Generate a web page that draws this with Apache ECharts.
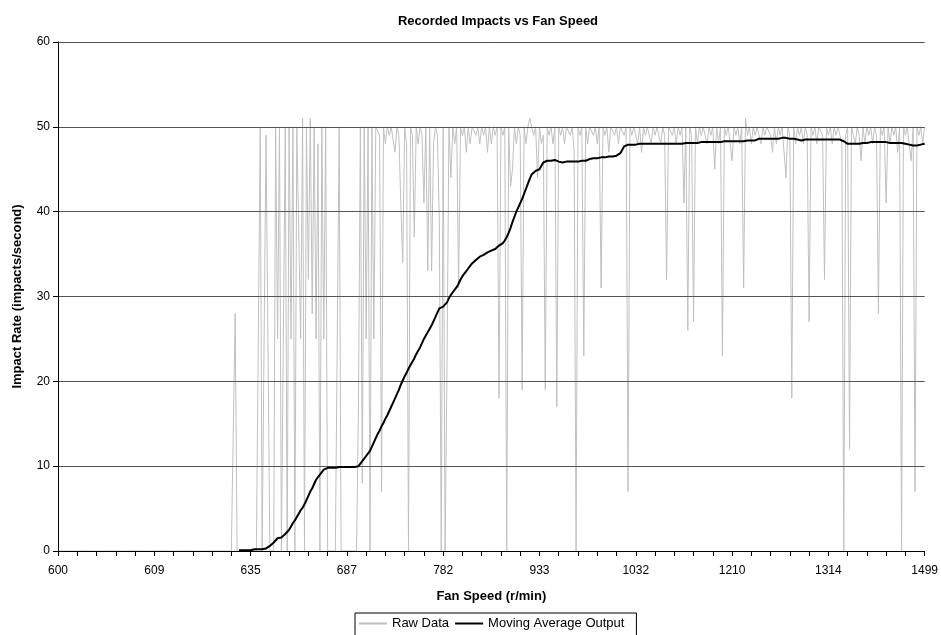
<!DOCTYPE html>
<html>
<head>
<meta charset="utf-8">
<script src="https://cdn.jsdelivr.net/npm/echarts@6/dist/echarts.min.js"></script>
<style>
html,body{margin:0;padding:0;background:#fff;}
#chart{width:941px;height:635px;}
</style>
</head>
<body>
<div id="chart"></div>
<script>
// Tick labels shown every labelStep samples (fan speed, r/min)
const tickLabels = ['600','609','635','687','782','933','1032','1210','1314','1499'];
const labelStep = 50;

// Raw impact rate per sample (impacts/second)
const rawData = [
0,0,0,0,0,0,0,0,0,0,
0,0,0,0,0,0,0,0,0,0,
0,0,0,0,0,0,0,0,0,0,
0,0,0,0,0,0,0,0,0,0,
0,0,0,0,0,0,0,0,0,0,
0,0,0,0,0,0,0,0,0,0,
0,0,0,0,0,0,0,0,0,0,
0,0,0,0,0,0,0,0,0,0,
0,0,0,0,0,0,0,0,0,0,
0,14,28,0,0,0,0,0,0,0,
0,0,0,0,0,50,0,0,49,25,
0,0,0,50,25,50,0,0,50,0,
50,25,50,0,50,50,25,51,0,50,
32,51,28,50,25,48,0,50,25,50,
0,0,0,0,0,0,50,0,0,0,
0,0,0,0,0,0,17,50,8,50,
25,50,0,50,25,50,50,49,7,50,
48,50,49,50,50,47,50,49,41,34,
50,48,0,50,49,37,50,48,50,49,
41,50,33,50,33,48,50,49,39,0,
50,0,22,50,44,50,48,50,31,50,
49,50,47,50,48,50,50,49,50,48,
50,49,50,47,50,48,50,49,50,18,
50,49,50,0,50,43,45,50,48,50,
49,19,50,48,50,51,50,49,50,44,
50,48,49,19,50,49,50,48,50,17,
50,49,50,48,50,50,49,50,47,0,
50,49,50,23,50,48,50,50,49,50,
48,50,31,50,49,50,47,50,50,49,
50,48,50,50,49,50,7,50,49,50,
50,48,50,47,50,49,50,50,48,50,
49,50,50,48,50,49,32,50,50,49,
50,48,50,49,50,41,50,26,50,49,
27,50,48,50,49,50,50,48,50,49,
50,45,50,48,50,23,50,49,50,48,
46,50,49,50,48,50,31,51,49,50,
48,50,49,50,50,48,50,49,50,50,
49,47,50,48,50,49,50,50,44,50,
49,18,50,48,50,49,50,48,50,49,
27,50,49,50,48,50,50,49,32,50,
49,50,48,50,49,50,50,48,0,49,
50,12,50,49,48,50,49,46,50,48,
50,49,50,48,50,49,28,50,49,50,
41,50,48,50,49,50,47,50,0,50,
49,50,48,46,50,7,50,49,50,48,
50
];

// Moving average output, starting at sample maStart
const maStart = 94;
const movingAvg = [
0.1,0.1,0.1,0.1,0.1,0.1,
0.1,0.1,0.2,0.2,0.2,0.2,0.2,0.3,0.3,0.4,
0.6,0.8,1.0,1.2,1.5,1.6,1.6,1.7,2.0,2.2,
2.5,2.9,3.3,3.6,4.0,4.4,4.8,5.1,5.5,6.0,
6.5,7.0,7.4,7.9,8.4,8.7,9.0,9.3,9.6,9.7,
9.8,9.8,9.8,9.8,9.8,9.8,9.9,9.9,9.9,9.9,
9.9,9.9,9.9,9.9,9.9,9.9,10.0,10.3,10.6,10.9,
11.2,11.5,11.8,12.3,12.8,13.3,13.8,14.2,14.7,15.1,
15.6,16.0,16.5,17.0,17.5,18.0,18.5,19.0,19.6,20.1,
20.6,21.0,21.5,21.9,22.3,22.7,23.2,23.6,24.0,24.5,
25.0,25.4,25.8,26.2,26.6,27.1,27.6,28.1,28.6,28.8,
28.8,28.8,29.3,29.8,30.2,30.5,30.8,31.1,31.5,32.0,
32.4,32.7,33.0,33.3,33.6,33.9,34.1,34.3,34.5,34.7,
34.8,34.9,35.0,35.2,35.3,35.4,35.5,35.6,35.8,36.0,
36.1,36.3,36.6,37.0,37.5,38.1,38.8,39.4,40.0,40.5,
41.0,41.5,42.1,42.7,43.3,43.9,44.4,44.6,44.8,44.9,
45.0,45.4,45.8,45.9,46.0,46.0,46.0,46.0,46.1,46.0,
45.9,45.8,45.8,45.8,45.9,45.9,45.9,45.9,45.9,45.9,
45.9,45.9,46.0,46.0,46.0,46.1,46.2,46.3,46.3,46.3,
46.3,46.4,46.4,46.4,46.4,46.5,46.5,46.5,46.5,46.5,
46.6,46.7,46.9,47.3,47.7,47.8,47.9,47.9,47.9,47.9,
47.9,47.9,48.0,48.0,48.0,48.0,48.0,48.0,48.0,48.0,
48.0,48.0,48.0,48.0,48.0,48.0,48.0,48.0,48.0,48.0,
48.0,48.0,48.0,48.0,48.0,48.1,48.1,48.1,48.1,48.1,
48.1,48.1,48.1,48.2,48.2,48.2,48.2,48.2,48.2,48.2,
48.2,48.2,48.2,48.1,48.2,48.2,48.3,48.3,48.3,48.3,
48.3,48.3,48.3,48.3,48.3,48.3,48.3,48.4,48.4,48.4,
48.4,48.4,48.4,48.5,48.6,48.6,48.6,48.6,48.6,48.6,
48.6,48.6,48.6,48.6,48.6,48.6,48.7,48.7,48.7,48.6,
48.6,48.6,48.6,48.5,48.5,48.4,48.4,48.4,48.5,48.5,
48.5,48.5,48.5,48.5,48.5,48.5,48.5,48.5,48.5,48.5,
48.5,48.5,48.5,48.5,48.5,48.5,48.5,48.4,48.3,48.1,
48.0,48.0,48.0,48.0,48.0,48.0,48.0,48.0,48.1,48.1,
48.1,48.2,48.2,48.2,48.2,48.2,48.2,48.2,48.2,48.2,
48.2,48.2,48.1,48.1,48.1,48.1,48.1,48.1,48.1,48.1,
48.0,48.0,47.9,47.8,47.8,47.8,47.8,47.8,47.9,47.9,
48.0
];

const categories = rawData.map((_, i) => String(i));
const maSeries = new Array(maStart).fill(null).concat(movingAvg);

const FONT = 'Liberation Sans, Arial, sans-serif';
const chart = echarts.init(document.getElementById('chart'), null, {renderer: 'canvas'});
chart.setOption({
  animation: false,
  backgroundColor: '#ffffff',
  textStyle: {fontFamily: FONT, color: '#000'},
  title: {
    text: 'Recorded Impacts vs Fan Speed',
    left: 493, top: 10, textAlign: 'center',
    textStyle: {fontFamily: FONT, fontSize: 13, fontWeight: 'bold', color: '#000'}
  },
  grid: {left: 58, right: 13, top: 42, bottom: 84, containLabel: false},
  legend: {
    data: ['Raw Data', 'Moving Average Output'],
    left: 355, top: 613,
    orient: 'horizontal',
    itemWidth: 28, itemHeight: 10, itemGap: 5,
    padding: [4, 12, 6, 3],
    borderColor: '#000', borderWidth: 1, borderRadius: 0,
    backgroundColor: '#fff',
    itemStyle: {opacity: 0, borderWidth: 0},
    textStyle: {fontFamily: FONT, fontSize: 13, color: '#000'}
  },
  xAxis: {
    type: 'category',
    data: categories,
    boundaryGap: false,
    z: 3,
    name: 'Fan Speed (r/min)',
    nameLocation: 'middle',
    nameGap: 39,
    nameTextStyle: {fontFamily: FONT, fontSize: 13, fontWeight: 'bold', color: '#000'},
    axisLine: {show: true, lineStyle: {color: '#000', width: 1}},
    axisTick: {show: true, interval: 9, length: 5, inside: false, lineStyle: {color: '#000', width: 1}},
    axisLabel: {
      interval: labelStep - 1,
      fontFamily: FONT, fontSize: 12, color: '#000', margin: 14,
      formatter: function (v, i) {
        const k = i / labelStep;
        return Number.isInteger(k) && tickLabels[k] !== undefined ? tickLabels[k] : '';
      }
    },
    splitLine: {show: false}
  },
  yAxis: {
    type: 'value',
    min: 0, max: 60, interval: 10,
    z: 3,
    name: 'Impact Rate (impacts/second)',
    nameLocation: 'middle',
    nameGap: 34,
    nameRotate: 90,
    nameTextStyle: {fontFamily: FONT, fontSize: 13, fontWeight: 'bold', color: '#000'},
    axisLine: {show: true, lineStyle: {color: '#000', width: 1}},
    axisTick: {show: true, length: 5, inside: false, lineStyle: {color: '#000', width: 1}},
    axisLabel: {fontFamily: FONT, fontSize: 12, color: '#000', margin: 8},
    splitLine: {show: true, lineStyle: {color: '#555', width: 1, type: 'solid'}}
  },
  series: [
    {
      name: 'Raw Data', type: 'line', data: rawData,
      symbol: 'none', showSymbol: false, sampling: null,
      lineStyle: {color: '#c0c0c0', width: 1},
      itemStyle: {color: '#c0c0c0'},
      z: 2
    },
    {
      name: 'Moving Average Output', type: 'line', data: maSeries,
      symbol: 'none', showSymbol: false, connectNulls: false,
      lineStyle: {color: '#000', width: 2},
      itemStyle: {color: '#000'},
      z: 4
    }
  ]
});
</script>
</body>
</html>
